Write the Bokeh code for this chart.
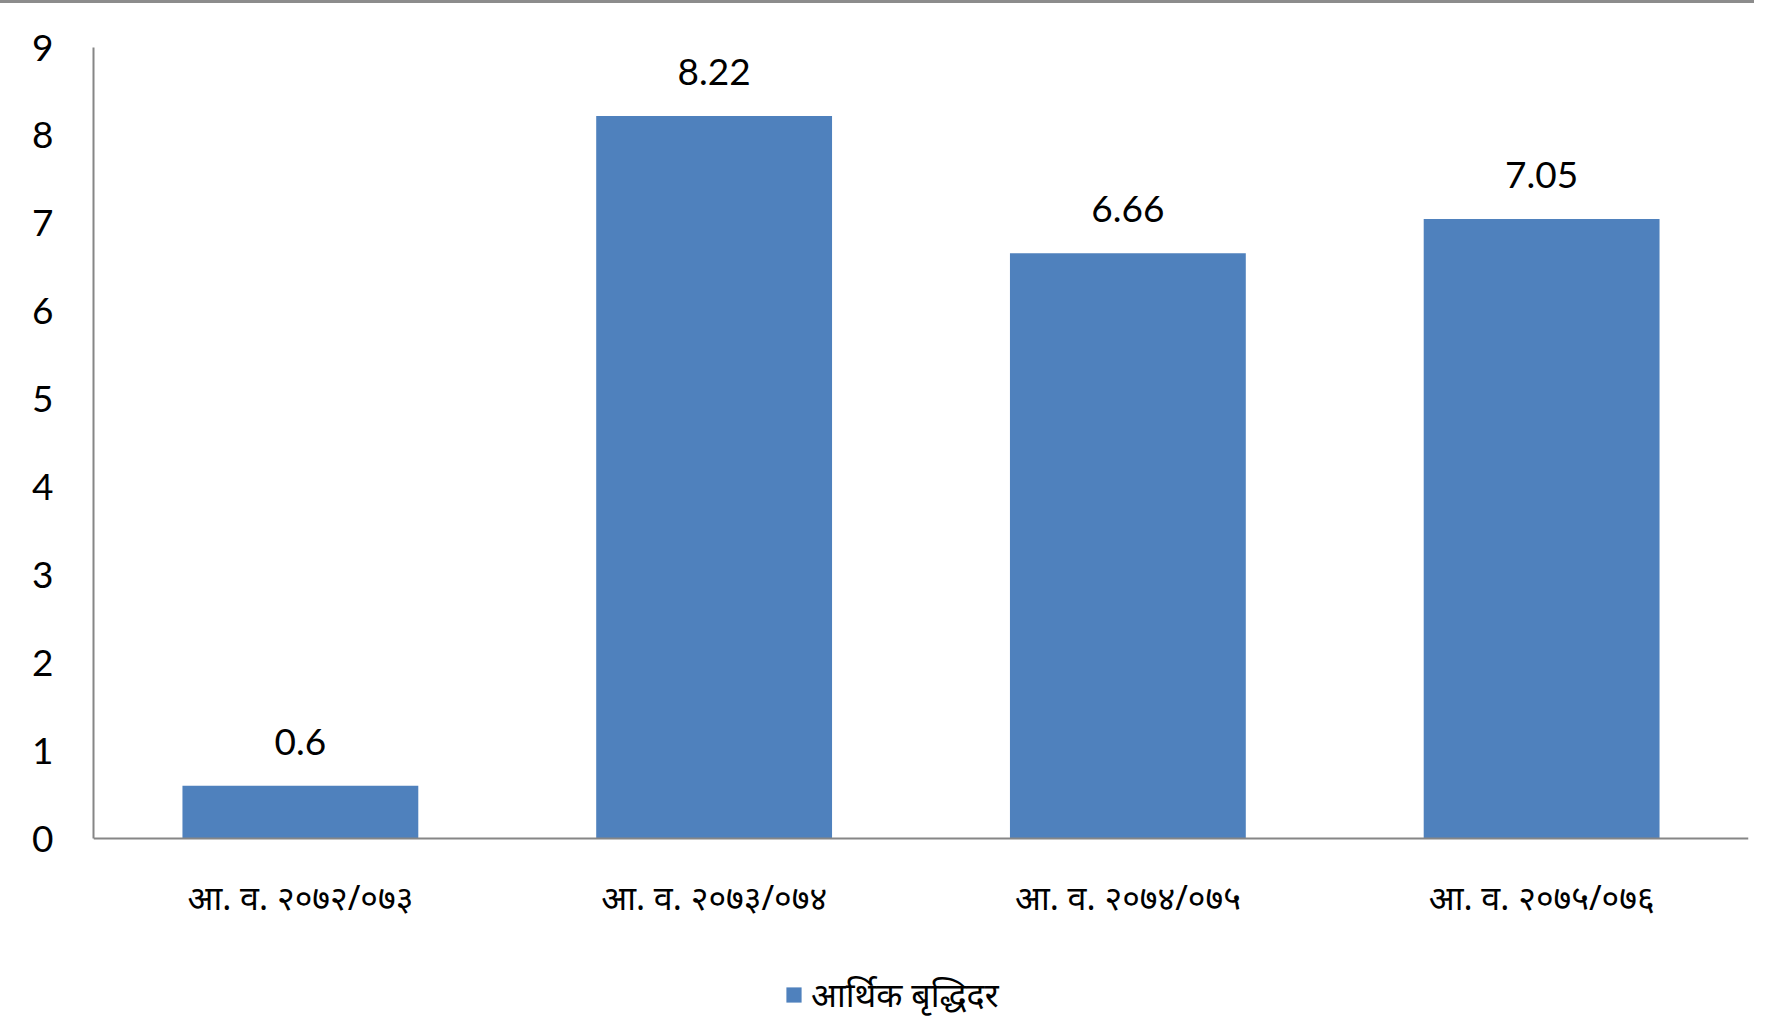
from bokeh.plotting import figure
from bokeh.models import ColumnDataSource, FactorRange, Range1d, Legend, LegendItem, FixedTicker
from bokeh.core.properties import value
from bokeh.embed import file_html
from bokeh.resources import INLINE

categories = ["आ. व. २०७२/०७३", "आ. व. २०७३/०७४", "आ. व. २०७४/०७५", "आ. व. २०७५/०७६"]
growth = [0.6, 8.22, 6.66, 7.05]
growth_labels = ["0.6", "8.22", "6.66", "7.05"]
series_name = "आर्थिक बृद्धिदर"
y_ticks = [0, 1, 2, 3, 4, 5, 6, 7, 8, 9]
y_max = 9

BAR = "#4F81BD"
AXIS = "#868686"
NUM_FONT = "Lato"
DEV_FONT = "Noto Sans"

W, H = 1754, 1019
TOP, LEFT, RIGHT, BOTTOM = 44, 93, 6, 1
ZERO_Y = 835  # pixel row (inside the figure) of the zero line
px_per_unit = (ZERO_Y - TOP) / y_max
y_start = -((H - BOTTOM) - ZERO_Y) / px_per_unit

src = ColumnDataSource(dict(cat=categories, val=growth, lab=growth_labels))

p = figure(
    width=W, height=H,
    x_range=FactorRange(*categories, range_padding=0),
    y_range=Range1d(y_start, y_max),
    output_backend="svg", toolbar_location=None,
    min_border_left=LEFT, min_border_right=RIGHT, min_border_top=TOP, min_border_bottom=BOTTOM,
)
p.styles = {"border-top": "3px solid #8c8c8c"}

bars = p.vbar(x="cat", top="val", width=0.57, source=src, fill_color=BAR, line_color=None)

p.text(x="cat", y="val", text="lab", source=src, text_align="center", text_baseline="middle",
       y_offset=-44, text_font=value(NUM_FONT), text_font_size="37px", text_color="#000000")

p.xgrid.visible = False
p.ygrid.visible = False
p.outline_line_color = None

p.yaxis.ticker = FixedTicker(ticks=y_ticks)
p.yaxis.bounds = (0, y_max)
p.yaxis.axis_line_color = AXIS
p.yaxis.axis_line_width = 2
p.yaxis.major_tick_line_color = None
p.yaxis.minor_tick_line_color = None
p.yaxis.major_label_text_font = NUM_FONT
p.yaxis.major_label_text_font_size = "37px"
p.yaxis.major_label_text_color = "#000000"
p.yaxis.major_label_standoff = 34

p.xaxis.fixed_location = 0
p.xaxis.axis_line_color = AXIS
p.xaxis.axis_line_width = 2
p.xaxis.major_tick_line_color = None
p.xaxis.minor_tick_line_color = None
p.xaxis.major_label_text_font = DEV_FONT
p.xaxis.major_label_text_font_size = "34px"
p.xaxis.major_label_text_color = "#000000"
p.xaxis.major_label_standoff = 29

legend = Legend(
    items=[LegendItem(label=series_name, renderers=[bars])],
    location=(691, 4), orientation="horizontal",
    glyph_width=19, glyph_height=19, padding=0, margin=0, spacing=0,
    label_standoff=8, label_text_font=DEV_FONT, label_text_font_size="34px",
    label_text_color="#000000", border_line_color=None, background_fill_alpha=0,
    label_height=32,
)
p.add_layout(legend, "center")

open("out.html", "w").write(file_html(p, INLINE))
